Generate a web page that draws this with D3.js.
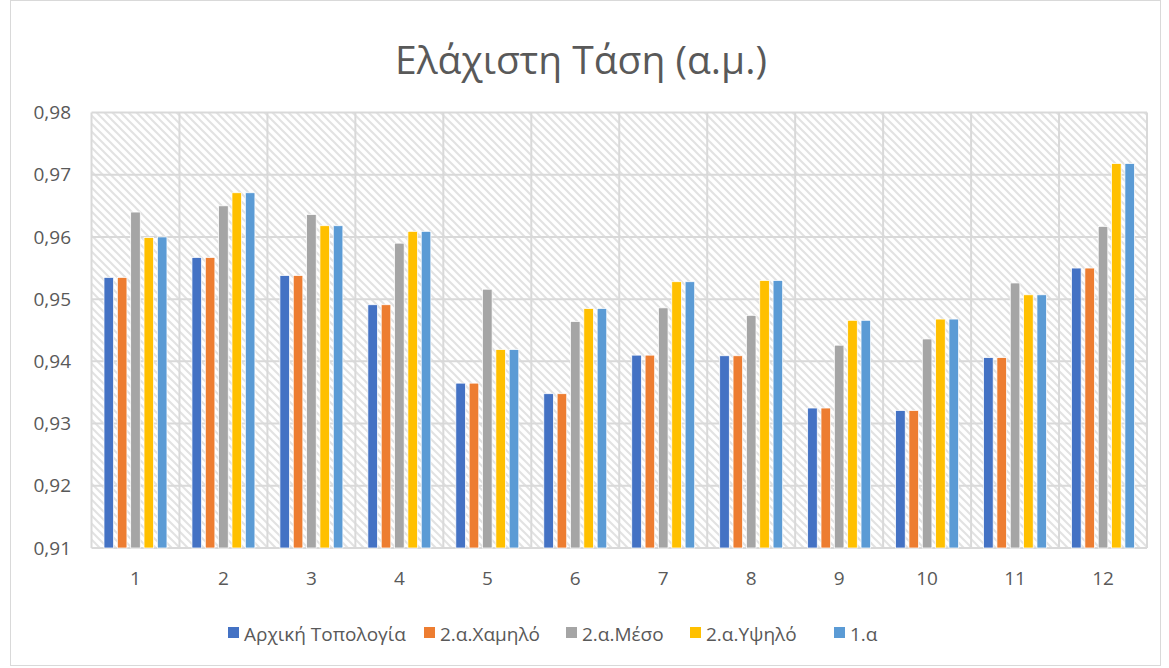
<!DOCTYPE html>
<html>
<head>
<meta charset="utf-8">
<script src="https://cdn.jsdelivr.net/npm/d3@7"></script>
<style>
  html, body { margin: 0; padding: 0; background: #fff; }
  svg { display: block; font-family: "Open Sans", "Noto Sans", sans-serif; }
</style>
</head>
<body>
<svg id="chart" width="1169" height="668"></svg>
<script>
const title = "Ελάχιστη Τάση (α.μ.)";
const categories = ["1","2","3","4","5","6","7","8","9","10","11","12"];
const seriesNames = ["Αρχική Τοπολογία","2.α.Χαμηλό","2.α.Μέσο","2.α.Υψηλό","1.α"];
const seriesColors = ["#4472C4","#ED7D31","#A5A5A5","#FFC000","#5B9BD5"];
const arxiki  = [0.9535,0.9567,0.9538,0.9491,0.9365,0.9348,0.9410,0.9409,0.9325,0.9321,0.9406,0.9550];
const xamilo  = [0.9535,0.9567,0.9538,0.9491,0.9365,0.9348,0.9410,0.9409,0.9325,0.9321,0.9406,0.9550];
const meso    = [0.9640,0.9650,0.9636,0.9590,0.9516,0.9464,0.9486,0.9474,0.9426,0.9436,0.9526,0.9617];
const ypsilo  = [0.9599,0.9671,0.9618,0.9609,0.9419,0.9485,0.9528,0.9530,0.9466,0.9468,0.9507,0.9718];
const alpha1  = [0.9600,0.9671,0.9618,0.9609,0.9419,0.9485,0.9528,0.9530,0.9466,0.9468,0.9507,0.9718];
const seriesValues = [arxiki, xamilo, meso, ypsilo, alpha1];
const yTicks = [0.91,0.92,0.93,0.94,0.95,0.96,0.97,0.98];

const svg = d3.select("#chart");
const plot = {left: 91.5, right: 1147, top: 112.5, bottom: 548};
const textColor = "#595959";
const gridColor = "#d9d9d9";

// outer border
svg.append("rect").attr("x", 10.5).attr("y", 0.5).attr("width", 1150).attr("height", 665)
  .attr("fill", "#fff").attr("stroke", gridColor).attr("stroke-width", 1);

// pattern
const defs = svg.append("defs");
const pat = defs.append("pattern").attr("id", "hatch").attr("patternUnits", "userSpaceOnUse")
  .attr("width", 8).attr("height", 8);
pat.append("rect").attr("width", 8).attr("height", 8).attr("fill", "#fff");
pat.append("path").attr("d", "M-2,-2 L10,10 M-2,6 L2,10 M6,-2 L10,2")
  .attr("stroke", "#e2e2e2").attr("stroke-width", 2);

const x0 = d3.scaleBand().domain(categories).range([plot.left, plot.right]).padding(0);
const cw = x0.bandwidth();
const x1 = d3.scaleBand().domain(seriesNames).range([cw * 0.142, cw * 0.858]).paddingInner(0.28).paddingOuter(0);
const y = d3.scaleLinear().domain([0.91, 0.98]).range([plot.bottom, plot.top]);

svg.append("rect").attr("x", plot.left).attr("y", plot.top)
  .attr("width", plot.right - plot.left).attr("height", plot.bottom - plot.top)
  .attr("fill", "url(#hatch)");

// horizontal gridlines
svg.append("g").selectAll("line").data(yTicks).join("line")
  .attr("x1", plot.left).attr("x2", plot.right)
  .attr("y1", d => y(d)).attr("y2", d => y(d))
  .attr("stroke", gridColor).attr("stroke-width", 2);
// vertical gridlines
const vb = categories.map(c => x0(c)).concat([plot.right]);
svg.append("g").selectAll("line").data(vb).join("line")
  .attr("x1", d => d).attr("x2", d => d)
  .attr("y1", plot.top).attr("y2", plot.bottom)
  .attr("stroke", gridColor).attr("stroke-width", 2);

// bars
const gCat = svg.append("g").selectAll("g").data(categories).join("g")
  .attr("transform", c => `translate(${x0(c)},0)`);
gCat.selectAll("rect").data((c, i) => seriesNames.map((s, j) => ({s, j, v: seriesValues[j][i]})))
  .join("rect")
  .attr("x", d => x1(d.s)).attr("width", x1.bandwidth())
  .attr("y", d => y(d.v)).attr("height", d => y(0.91) - y(d.v))
  .attr("fill", d => seriesColors[d.j])
  .attr("stroke", "#fff").attr("stroke-width", 0.75);

// y axis labels
const yAxis = d3.axisLeft(y).tickValues(yTicks).tickSize(0).tickPadding(0)
  .tickFormat(d => d3.format(".2f")(d).replace(".", ","));
const gy = svg.append("g").attr("transform", `translate(71,0)`).call(yAxis);
gy.select(".domain").remove();
gy.selectAll("text").attr("fill", textColor).attr("font-size", 19)
  .attr("font-family", "'Open Sans', sans-serif");

// x axis labels
const xAxis = d3.axisBottom(x0).tickSize(0).tickPadding(0);
const gx = svg.append("g").attr("transform", `translate(0,${plot.bottom})`).call(xAxis);
gx.select(".domain").remove();
gx.selectAll("text").attr("fill", textColor).attr("font-size", 19)
  .attr("font-family", "'Open Sans', sans-serif").attr("dy", null).attr("y", 37);

// title
svg.append("text").attr("x", 581).attr("y", 74).attr("text-anchor", "middle")
  .attr("fill", textColor).attr("font-size", 39).text(title);

// legend
const legendX = [228, 424, 566, 690, 834];
const lg = svg.append("g").selectAll("g").data(seriesNames).join("g")
  .attr("transform", (d, i) => `translate(${legendX[i]},627)`);
lg.append("rect").attr("width", 11).attr("height", 11).attr("fill", (d, i) => seriesColors[i]);
lg.append("text").attr("x", 16).attr("y", 13.5).attr("fill", textColor).attr("font-size", 19).text(d => d);
</script>
</body>
</html>
